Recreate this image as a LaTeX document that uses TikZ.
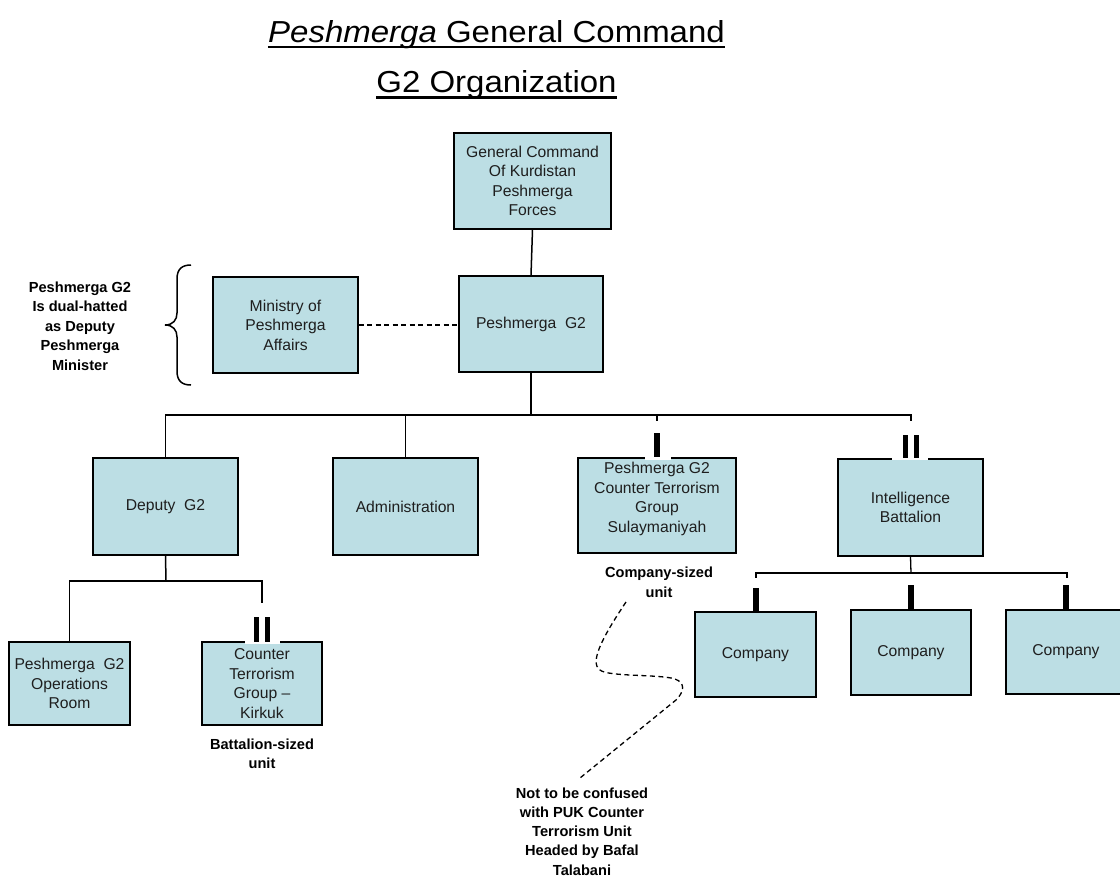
\documentclass[tikz,border=0pt]{standalone}
\usepackage{fontspec}
\setmainfont{Liberation Sans}
\definecolor{boxblue}{RGB}{188,222,228}
\definecolor{boxtext}{RGB}{30,30,30}
\tikzset{
  orgbox/.style={draw=black, fill=boxblue, line width=1.4pt, inner sep=0pt, align=center,
     text=boxtext, font=\fontsize{15.7}{19.5}\selectfont},
  conn/.style={draw=black, line width=1.5pt},
  dconn/.style={draw=black, line width=1.3pt, dash pattern=on 5pt off 3.5pt},
  unitbar/.style={draw=black, line width=5.5pt},
  note/.style={align=center, inner sep=0pt, font=\bfseries\fontsize{14.6}{19.5}\selectfont},
  ttl/.style={inner sep=0pt, anchor=base, font=\fontsize{33}{40}\selectfont}
}
\begin{document}
\begin{tikzpicture}[x=1pt,y=-1pt]
\useasboundingbox (0,0) rectangle (1120,879);

% title
\node[ttl] (t1) at (496.5,42) {\scalebox{1}[0.92]{\textit{Peshmerga} General Command}};
\node[ttl] (t2) at (496.5,92) {\scalebox{1}[0.92]{G2 Organization}};
\draw[line width=2.3pt] ([yshift=-5pt]t1.base west) -- ([yshift=-5pt]t1.base east);
\draw[line width=2.3pt] ([yshift=-5.5pt]t2.base west) -- ([yshift=-5.5pt]t2.base east);

% boxes
\node[orgbox, minimum width=157pt, minimum height=96pt] (gc) at (532.5,181) {General Command\\Of Kurdistan\\Peshmerga\\Forces};
\node[orgbox, minimum width=144pt, minimum height=96pt] (g2) at (531,324) {Peshmerga\ \ G2};
\node[orgbox, minimum width=145pt, minimum height=96pt] (min) at (285.5,325) {Ministry of\\Peshmerga\\Affairs};
\node[orgbox, minimum width=145pt, minimum height=97pt] (dep) at (165.5,506.5) {Deputy\ \ G2};
\node[orgbox, minimum width=145pt, minimum height=97pt] (adm) at (405.5,506.5) {Administration};
\node[orgbox, minimum width=158pt, minimum height=95pt] (cts) at (657,505.5) {};
\node[align=center, text=boxtext, font=\fontsize{15.7}{19.5}\selectfont, inner sep=0pt] (ctstext) at (657,499) {Peshmerga G2\\Counter Terrorism\\Group\\Sulaymaniyah};
\node[orgbox, minimum width=145pt, minimum height=97pt] (intel) at (910.5,507.5) {Intelligence\\Battalion};
\node[orgbox, minimum width=121pt, minimum height=83pt] (ops) at (69.5,683.5) {Peshmerga\ \ G2\\Operations\\Room};
\node[orgbox, minimum width=120pt, minimum height=83pt] (ctk) at (262,683.5) {Counter\\Terrorism\\Group --\\Kirkuk};
\node[orgbox, minimum width=121pt, minimum height=85pt] (co1) at (755.5,654.5) {Company};
\node[orgbox, minimum width=120pt, minimum height=85pt] (co2) at (911,652.5) {Company};
\node[orgbox, minimum width=120pt, minimum height=84pt] (co3) at (1066,652) {Company};

% notes
\node[note] (n1) at (80,326) {Peshmerga G2\\Is dual-hatted\\as Deputy\\Peshmerga\\Minister};
\node[note] (n2) at (262,754) {Battalion-sized\\unit};
\node[note] (n3) at (659,582.5) {Company-sized\\unit};
\node[note, font=\bfseries\fontsize{14.6}{19.2}\selectfont] (n4) at (582,831.5) {Not to be confused\\with PUK Counter\\Terrorism Unit\\Headed by Bafal\\Talabani};

% brace
\draw[line width=1.5pt] (191,265) .. controls (182,265) and (177,269) .. (177,279) -- (177,313)
   .. controls (177,320) and (173,325) .. (165,325)
   .. controls (173,325) and (177,330) .. (177,337) -- (177,371)
   .. controls (177,381) and (182,385) .. (191,385);

% connectors
\draw[conn] (gc.south) -- (g2.north);
\draw[dconn] (min.east) -- (min.east -| g2.west);
\coordinate (bus) at (531,415);
\coordinate (ctsTick) at (657,421);
\coordinate (intTick) at (911,421);
\draw[conn] (g2.south) -- (bus);
\draw[conn] (bus) -| (dep.north);
\draw[conn] (bus) -| (adm.north);
\draw[conn] (bus) -| (ctsTick);
\draw[conn] (bus) -| (intTick);

% unit symbols on top row
\fill[white] (645,454) rectangle (671,460);
\draw[unitbar] (657,433) -- (cts.north);
\fill[white] (892,454) rectangle (928,460);
\draw[unitbar] (905.5,435) -- (905.5,458);
\draw[unitbar] (916.5,435) -- (916.5,458);

% deputy branch
\coordinate (dbus) at (166,581);
\coordinate (ctkTick) at (262,603);
\draw[conn] (dep.south) -- (dbus);
\draw[conn] (dbus) -| (ops.north);
\draw[conn] (dbus) -| (ctkTick);
\fill[white] (245,638) rectangle (280,644);
\draw[unitbar] (256.5,617) -- (256.5,642);
\draw[unitbar] (267.5,617) -- (267.5,642);

% intelligence branch
\coordinate (ibus) at (911,573);
\coordinate (c1Tick) at (756,578);
\coordinate (c3Tick) at (1067,578);
\draw[conn, line width=1.3pt] (intel.south) -- (ibus);
\draw[conn, line width=1.3pt] (ibus) -| (c1Tick);
\draw[conn, line width=1.3pt] (ibus) -| (c3Tick);
\draw[unitbar] (756,588) -- (756,612);
\draw[unitbar] (911,585) -- (co2.north);
\draw[unitbar] (1066,585) -- (co3.north);

% dashed callout curve
\coordinate (cs) at (626,602);
\coordinate (ce) at (580,778);
\draw[dconn] (cs) .. controls (606,632) and (588,662) .. (600,670)
   .. controls (608,677) and (660,674) .. (675,679)
   .. controls (686,683) and (684,692) .. (676,700) -- (ce);
\end{tikzpicture}
\end{document}
